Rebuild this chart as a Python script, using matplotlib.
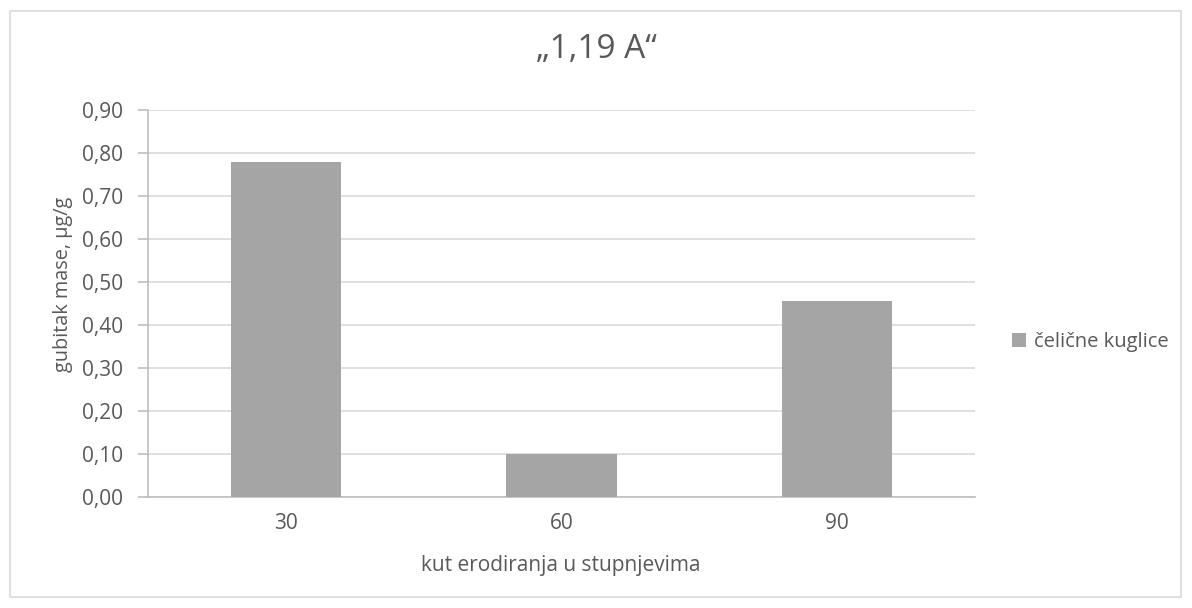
import matplotlib
matplotlib.use("Agg")
import matplotlib.pyplot as plt
import matplotlib.ticker as mticker
from matplotlib.patches import Rectangle

# ── Data ──────────────────────────────────────────────────────────────────────
angles = ["30", "60", "90"]
mass_loss = [0.778, 0.099, 0.456]
series_name = "čelične kuglice"
title = "„1,19 A“"
x_label = "kut erodiranja u stupnjevima"
y_label = "gubitak mase, µg/g"

BAR = "#A5A5A5"
TEXT = "#595959"
GRID = "#D9D9D9"
AXIS = "#BFBFBF"
W, H = 1192, 608

plt.rcParams["font.family"] = ["Open Sans", "DejaVu Sans"]

fig = plt.figure(figsize=(W / 100, H / 100), dpi=100, facecolor="white")
ax = fig.add_axes([148 / W, 1 - 496.7 / H, (975 - 148) / W, (496.7 - 110) / H])

# chart border
fig.patches.append(Rectangle((10 / W, 11 / H), 1171 / W, 586 / H,
                             transform=fig.transFigure, fill=False,
                             edgecolor=GRID, linewidth=1.2))

x = range(len(angles))
ax.bar(x, mass_loss, width=0.4, color=BAR, zorder=3, label=series_name)

ax.set_xlim(-0.5, len(angles) - 0.5)
ax.set_ylim(0, 0.9)
ax.set_xticks(list(x))
ax.set_xticklabels(angles)
ax.yaxis.set_major_locator(mticker.MultipleLocator(0.1))
ax.yaxis.set_major_formatter(mticker.FuncFormatter(lambda v, _: f"{v:.2f}".replace(".", ",")))

ax.grid(axis="y", color=GRID, linewidth=1.2, zorder=0)
ax.spines[["top", "right"]].set_visible(False)
ax.spines[["left", "bottom"]].set_color(AXIS)
ax.spines[["left", "bottom"]].set_linewidth(1.2)
ax.tick_params(axis="y", colors=AXIS, labelcolor=TEXT, labelsize=15,
               length=7, width=1.2, pad=11)
ax.tick_params(axis="x", length=0, labelcolor=TEXT, labelsize=15, pad=12)

# titles placed in figure pixels to match the layout
fig.text(0.5, 1 - 50 / H, title, fontsize=24, color=TEXT, ha="center", va="center")
fig.text(561 / W, 1 - 565 / H, x_label, fontsize=15, color=TEXT, ha="center", va="center")
fig.text(63 / W, 1 - 284 / H, y_label, fontsize=14.3, color=TEXT, ha="center",
         va="center", rotation=90)

ax.legend(loc="center left", bbox_to_anchor=(1012 / W, 1 - 342 / H),
          bbox_transform=fig.transFigure, frameon=False, fontsize=14.5,
          labelcolor=TEXT, handlelength=0.7, handleheight=0.7, handletextpad=0.4,
          borderaxespad=0, borderpad=0)

fig.savefig("out.png", dpi=100, facecolor="white")
